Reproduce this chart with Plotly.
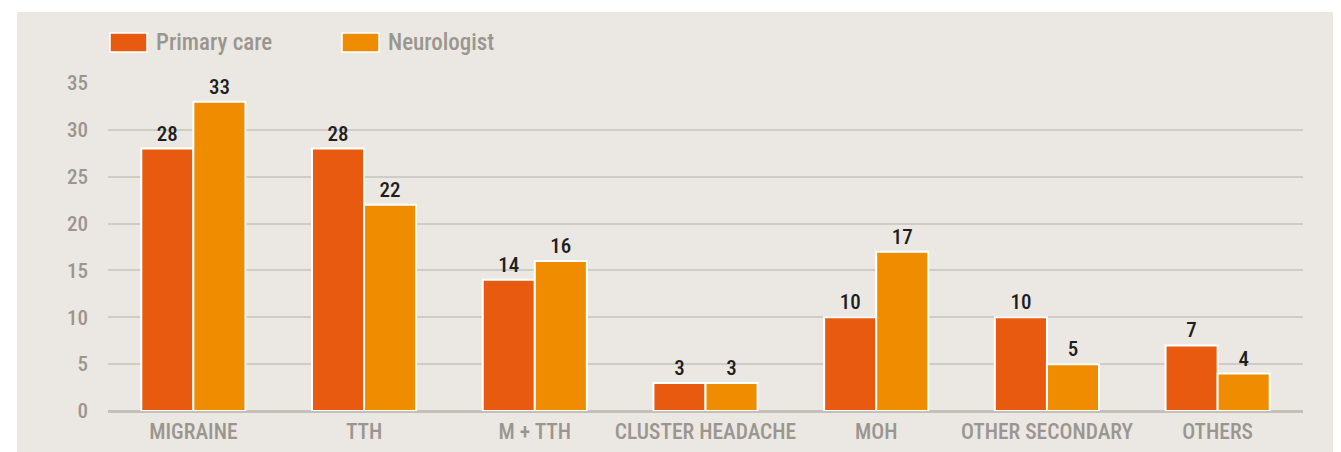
import plotly.graph_objects as go

categories = ["MIGRAINE", "TTH", "M + TTH", "CLUSTER HEADACHE", "MOH", "OTHER SECONDARY", "OTHERS"]
primary_care = [28, 28, 14, 3, 10, 10, 7]
neurologist = [33, 22, 16, 3, 17, 5, 4]
y_ticks = [0, 5, 10, 15, 20, 25, 30, 35]
series_names = ["Primary care", "Neurologist"]
series_colors = ["#e85a10", "#f08c00"]

FONT = "Roboto Condensed, Liberation Sans Narrow, Roboto, sans-serif"
GRAY = "#9a968f"
W, H = 1333, 444
L, R, T, B = 100, 38, 75, 41
PW, PH = W - L - R, H - T - B


def px_x(px):
    return (px - L) / PW


def px_y(py):
    return (H - B - py) / PH


fig = go.Figure()
for name, vals, col in zip(series_names, [primary_care, neurologist], series_colors):
    fig.add_trace(go.Bar(
        name=name, x=categories, y=vals,
        marker=dict(color=col, line=dict(color="white", width=2)),
        text=vals, textposition="outside", cliponaxis=False,
        textfont=dict(family=FONT, size=21, color="#1e1e1e", weight=500),
    ))

# panel background
fig.add_shape(type="rect", xref="paper", yref="paper",
              x0=px_x(9), x1=px_x(W + 5), y0=px_y(H + 5), y1=px_y(4),
              fillcolor="#ebe8e3", line=dict(width=0), layer="below")

# custom legend
leg_x = [102, 334]
for i, (name, col) in enumerate(zip(series_names, series_colors)):
    x0 = leg_x[i]
    fig.add_shape(type="rect", xref="paper", yref="paper",
                  x0=px_x(x0), x1=px_x(x0 + 37), y0=px_y(44), y1=px_y(25),
                  fillcolor=col, line=dict(color="white", width=1.5))
    fig.add_annotation(xref="paper", yref="paper", x=px_x(x0 + 44), y=px_y(35),
                       xanchor="left", yanchor="middle", showarrow=False, text=name,
                       font=dict(family=FONT, size=23, color=GRAY, weight=500))

fig.update_layout(
    width=W, height=H,
    margin=dict(l=L, r=R, t=T, b=B, pad=0, autoexpand=False),
    paper_bgcolor="white", plot_bgcolor="rgba(0,0,0,0)",
    barmode="group", bargap=0.39, bargroupgap=0,
    showlegend=False,
    font=dict(family=FONT),
    xaxis=dict(showgrid=False, showline=False, ticks="", ticklabelstandoff=5, automargin=False,
               tickfont=dict(family=FONT, size=21.5, color=GRAY, weight=500)),
    yaxis=dict(range=[0, 35], tickvals=y_ticks, showgrid=True, gridcolor="#cfcbc5", gridwidth=1.5,
               zeroline=True, zerolinecolor="#c4c0b9", zerolinewidth=2.5, automargin=False,
               ticks="", ticklabelstandoff=19,
               tickfont=dict(family=FONT, size=21, color=GRAY, weight=500)),
)

fig.write_html("out.html")
